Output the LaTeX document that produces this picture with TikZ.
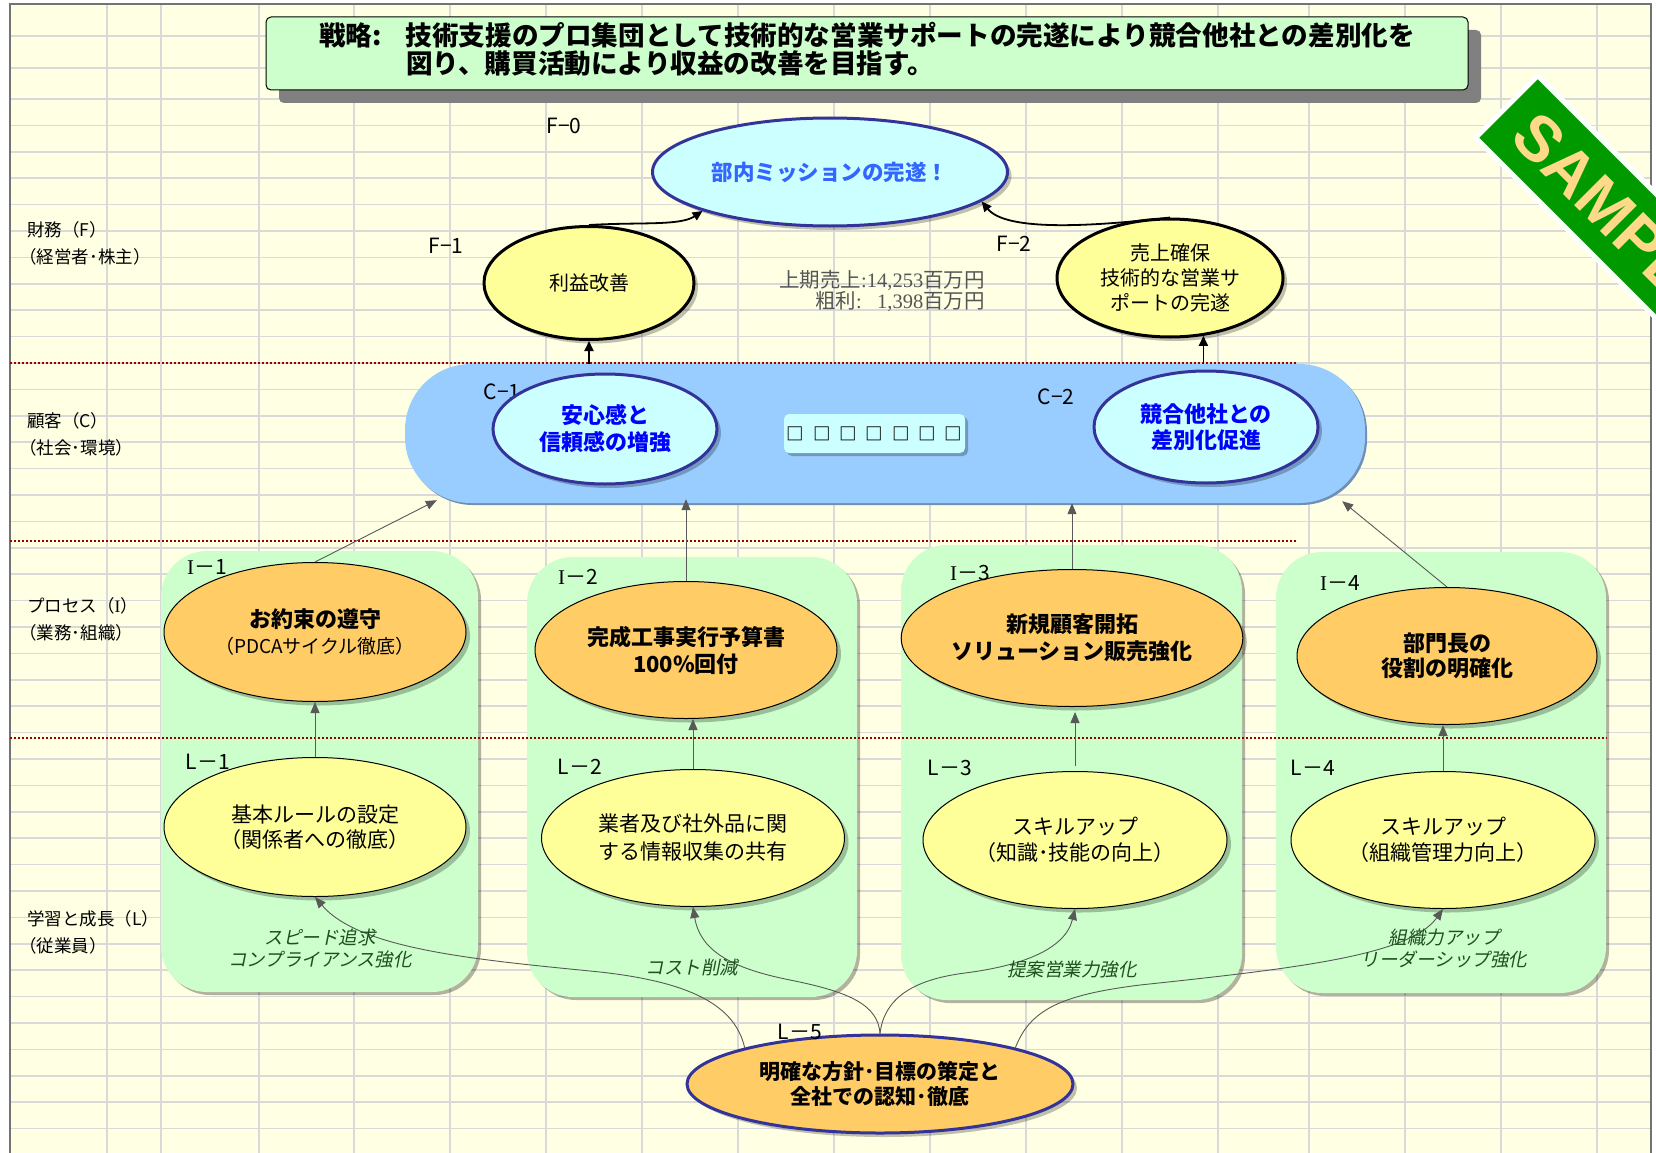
\documentclass[tikz,border=0pt]{standalone}
\usepackage{fontspec}
\setmainfont{Noto Sans CJK JP}
\newfontfamily\slantjp{Noto Sans CJK JP}[FakeSlant=0.2]
\newfontfamily\latinserif{Liberation Serif}
\newfontfamily\stampfont{Liberation Sans}
\usetikzlibrary{shapes.geometric,shadows,arrows.meta,calc}
\newcommand\fsz[2]{\fontsize{#1}{#2}\selectfont}
\definecolor{bgyellow}{HTML}{FFFFE3}
\definecolor{gridgray}{HTML}{D9D9DA}
\definecolor{mint}{HTML}{CCFFCC}
\definecolor{skyband}{HTML}{99CCFF}
\definecolor{bandedge}{HTML}{6F8FB5}
\definecolor{cyanfill}{HTML}{CCFFFF}
\definecolor{navy}{HTML}{333399}
\definecolor{orangefill}{HTML}{FFCC66}
\definecolor{paleyellow}{HTML}{FFFF99}
\definecolor{dotred}{HTML}{990000}
\definecolor{textblue}{HTML}{0000FF}
\definecolor{missionblue}{HTML}{3366FF}
\definecolor{italgreen}{HTML}{1F4F1F}
\definecolor{arrowgray}{HTML}{595959}
\definecolor{numgray}{HTML}{555555}
\definecolor{stampgreen}{HTML}{009900}
\definecolor{stamptext}{HTML}{FFD98A}
\tikzset{
 gridline/.style={draw=gridgray, line width=1.6pt},
 ovalbase/.style={ellipse, inner sep=0pt, align=center, drop shadow={shadow xshift=4pt, shadow yshift=-4pt, fill=black, opacity=0.25}},
 missionoval/.style={ovalbase, draw=navy, line width=3pt, fill=cyanfill},
 finoval/.style={ovalbase, draw=black, line width=3pt, fill=paleyellow},
 procoval/.style={ovalbase, draw=black, line width=1pt, fill=orangefill},
 learnoval/.style={ovalbase, draw=black, line width=1pt, fill=paleyellow},
 colbox/.style={rectangle, rounded corners=46pt, fill=mint, inner sep=0pt, drop shadow={shadow xshift=3pt, shadow yshift=-3pt, fill=black, opacity=0.3}},
 tag/.style={font=\fsz{21}{21}, inner sep=0pt},
 sidelabel/.style={font=\fsz{17.5}{26.5}, anchor=west, align=left, inner sep=0pt},
 itlabel/.style={font=\slantjp\fsz{18.5}{22}, text=italgreen, align=center, inner sep=0pt},
 blackarrow/.style={draw=black, line width=1.8pt, -{Triangle[length=10pt, width=9pt]}},
 grayarrow/.style={draw=arrowgray, line width=0.9pt, -{Triangle[length=11pt, width=9pt]}},
 sepline/.style={draw=dotred, line width=2.4pt, dash pattern=on 2pt off 2pt},
}
\begin{document}
\begin{tikzpicture}[x=1pt,y=-1pt]
\useasboundingbox (0,0) rectangle (1656,1153);
\fill[white] (0,0) rectangle (1656,1153);
\fill[bgyellow] (10,4) rectangle (1651,1153);
% grid
\foreach \yy in {36,68} {\draw[gridline] (10,\yy) -- (1651,\yy);}
\foreach \i in {0,...,39} {\draw[gridline] (10,{99+26.4*\i}) -- (1651,{99+26.4*\i});}
\foreach \xx in {107,161,259,354,450,546,642,738,834,930,1026,1122,1218,1309,1405,1501,1597} {\draw[gridline] (\xx,4) -- (\xx,1153);}
\draw[black!55, line width=1.5pt] (10,1153) -- (10,4) -- (1651,4) -- (1651,1153);

% title
\node[draw=black, line width=1pt, fill=mint, rounded corners=5pt, minimum width=1202pt, minimum height=73pt, inner sep=0pt,
      drop shadow={shadow xshift=13pt, shadow yshift=-13pt, fill=black!50, opacity=1}] (title) at (867,53.5) {};
\node[font=\bfseries\fsz{26.6}{27.5}, anchor=west, align=left, inner sep=0pt] (titletext) at (319,49)
  {戦略:\hspace{24pt}技術支援のプロ集団として技術的な営業サポートの完遂により競合他社との差別化を\\\hspace*{87pt}図り、購買活動により収益の改善を目指す。};

% side labels
\node[sidelabel] (side1) at (27,243.5) {財務（F）\\\kern-0.45em（経営者･株主）};
\node[sidelabel] (side2) at (27,434.5) {顧客（C）\\\kern-0.45em（社会･環境）};
\node[sidelabel] (side3) at (27,619.5) {プロセス（{\latinserif I}）\\\kern-0.45em（業務･組織）};
\node[sidelabel] (side4) at (27,932.5) {学習と成長（L）\\\kern-0.45em（従業員）};

% column boxes
\node[colbox, minimum width=317pt, minimum height=441pt] (col1) at (319.5,771.5) {};
\node[colbox, minimum width=330pt, minimum height=440pt] (col2) at (692,777) {};
\node[colbox, minimum width=341pt, minimum height=455pt] (col3) at (1071.5,772.5) {};
\node[colbox, minimum width=330pt, minimum height=441pt] (col4) at (1441,772.5) {};

% customer band
\node[rectangle, rounded corners=66pt, minimum width=960pt, minimum height=139pt, inner sep=0pt, fill=skyband,
      drop shadow={shadow xshift=2pt, shadow yshift=-2pt, fill=bandedge, opacity=1}] (cband) at (885,433.5) {};
\node[tag] (tc1) at (502,392) {C−1};
\node[rectangle, rounded corners=5pt, minimum width=181pt, minimum height=39pt, inner sep=0pt, fill=cyanfill,
      drop shadow={shadow xshift=3pt, shadow yshift=-3pt, fill=black, opacity=0.25}, font=\bfseries\fsz{17.5}{17.5}] (boxes) at (874.5,433.5)
  {□\hspace{8.8pt}□\hspace{8.8pt}□\hspace{8.8pt}□\hspace{8.8pt}□\hspace{8.8pt}□\hspace{8.8pt}□};
\node[missionoval, minimum width=224pt, minimum height=110pt, font=\bfseries\fsz{22}{27}, text=textblue] (c1) at (605,429) {安心感と\\信頼感の増強};
\node[missionoval, minimum width=224pt, minimum height=112pt, font=\bfseries\fsz{22}{26}, text=textblue] (c2) at (1206,427) {競合他社との\\差別化促進};

% finance
\node[missionoval, minimum width=355pt, minimum height=108pt, font=\bfseries\fsz{21.5}{22}, text=missionblue] (f0) at (830,172) {部内ミッションの完遂！};
\node[finoval, minimum width=210pt, minimum height=113pt, font=\fsz{20}{25}] (f1) at (589,283) {利益改善};
\node[finoval, minimum width=226pt, minimum height=118pt, font=\fsz{20}{25}] (f2) at (1170,278) {売上確保\\技術的な営業サ\\ポートの完遂};
\node[font=\fsz{20.5}{19}, text=numgray, align=right, anchor=east, inner sep=0pt] (sales) at (985,291)
  {上期売上{\latinserif :14,253}百万円\\粗利{\latinserif :\ \ \ 1,398}百万円};

% process
\node[procoval, minimum width=302pt, minimum height=139pt, font=\fsz{22}{26}] (i1) at (315,632) {{\bfseries お約束の遵守}\\{\fsz{19}{26}（PDCAサイクル徹底）}};
\node[procoval, minimum width=302pt, minimum height=137pt, font=\bfseries\fsz{22}{27}] (i2) at (686,650) {完成工事実行予算書\\100\%回付};
\node[procoval, minimum width=330pt, minimum height=137pt, font=\bfseries\fsz{22}{27}] (i3) at (1072,638) {新規顧客開拓\\ソリューション販売強化};
\node[procoval, minimum width=300pt, minimum height=137pt, font=\bfseries\fsz{22}{25}] (i4) at (1447,656) {部門長の\\役割の明確化};

% learning
\node[learnoval, minimum width=302pt, minimum height=139pt, font=\fsz{21}{25}] (l1) at (315,827) {基本ルールの設定\\（関係者への徹底）};
\node[learnoval, minimum width=303pt, minimum height=137pt, font=\fsz{21}{28}] (l2) at (693,838) {業者及び社外品に関\\する情報収集の共有};
\node[learnoval, minimum width=304pt, minimum height=137pt, font=\fsz{21}{26}] (l3) at (1075,840) {スキルアップ\\（知識･技能の向上）};
\node[learnoval, minimum width=304pt, minimum height=137pt, font=\fsz{21}{26}] (l4) at (1443,840) {スキルアップ\\（組織管理力向上）};
\node[ovalbase, draw=navy, line width=3pt, fill=orangefill, minimum width=386pt, minimum height=98pt, font=\bfseries\fsz{21}{25}] (l5) at (880,1084) {明確な方針･目標の策定と\\全社での認知･徹底};

% separators
\draw[sepline] (10,363) -- (1297,363);
\draw[sepline] (10,541) -- (1297,541);
\draw[sepline] (10,738) -- (1607,738);

% finance arrows
\draw[blackarrow] (f1.north) .. controls (640,222) and (680,226) .. (f0.197);
\draw[blackarrow] (f2.north) .. controls (1080,228) and (1005,230) .. (f0.349);
\draw[blackarrow] (cband.north -| f1.south) -- (f1.south);
\draw[blackarrow] (cband.north -| f2.300) -- (f2.300);

% process to customer
\draw[grayarrow] (i1.north) -- ($(cband.south west)+(32,-3)$);
\draw[grayarrow, shorten >=-4pt] (i2.north) -- (i2.north |- cband.south);
\draw[grayarrow] (i3.north) -- (i3.north |- cband.south);
\draw[grayarrow] (i4.north) -- ($(cband.south east)+(-23,-2)$);

% learning to process
\draw[grayarrow] (l1.north) -- (i1.south);
\draw[grayarrow] (l2.north) -- (l2.north |- i2.south);
\draw[grayarrow, shorten <=5pt, shorten >=5pt] (l3.north) -- (l3.north |- i3.south);
\draw[grayarrow] (l4.north) -- (l4.north |- i4.south);

% L-5 curves
\draw[grayarrow] (l5.165) .. controls (735,1005) and (690,982) .. (600,972) .. controls (480,960) and (360,950) .. (l1.south);
\draw[grayarrow] (l5.north) .. controls (878,1005) and (850,992) .. (790,980) .. controls (730,968) and (700,950) .. (l2.south);
\draw[grayarrow] (l5.north) .. controls (884,1000) and (910,980) .. (965,973) .. controls (1020,966) and (1065,950) .. (l3.south);
\draw[grayarrow] (l5.15) .. controls (1030,1010) and (1060,995) .. (1140,985) .. controls (1300,968) and (1410,955) .. (l4.south);

% italic captions
\node[itlabel] (it1) at (320,949) {スピード追求\\コンプライアンス強化};
\node[itlabel] (it2) at (692,967) {コスト削減};
\node[itlabel] (it3) at (1072,970) {提案営業力強化};
\node[itlabel] (it4) at (1444,949) {組織力アップ\\リーダーシップ強化};

% tags
\node[tag] (tf0) at (564,126) {F−0};
\node[tag] (tf1) at (446,246) {F−1};
\node[tag] (tf2) at (1014,244) {F−2};
\node[tag] (tc2) at (1056,397) {C−2};
\node[tag] (ti1) at (207,567) {{\latinserif I}－1};
\node[tag] (ti2) at (578,577) {{\latinserif I}－2};
\node[tag] (ti3) at (970,573) {{\latinserif I}－3};
\node[tag] (ti4) at (1340,583) {{\latinserif I}－4};
\node[tag] (tl1) at (208,762) {L－1};
\node[tag] (tl2) at (580,767) {L－2};
\node[tag] (tl3) at (950,768) {L－3};
\node[tag] (tl4) at (1313,768) {L－4};
\node[tag] (tl5) at (800,1032) {L－5};

% SAMPLE stamp
\begin{scope}
\clip (0,0) rectangle (1656,1153);
\node[rectangle, rotate=-45, minimum width=360pt, minimum height=88pt, inner sep=0pt, fill=stampgreen, draw=white, line width=5pt,
      drop shadow={shadow xshift=3pt, shadow yshift=-3pt, fill=black, opacity=0.35}] (stamp) at (1634,234) {};
\node[rotate=-45, anchor=west, inner sep=0pt, font=\stampfont\bfseries\fsz{64}{64}, text=stamptext] (samp) at (1524,124) {SAMPLE};
\end{scope}
\end{tikzpicture}
\end{document}
